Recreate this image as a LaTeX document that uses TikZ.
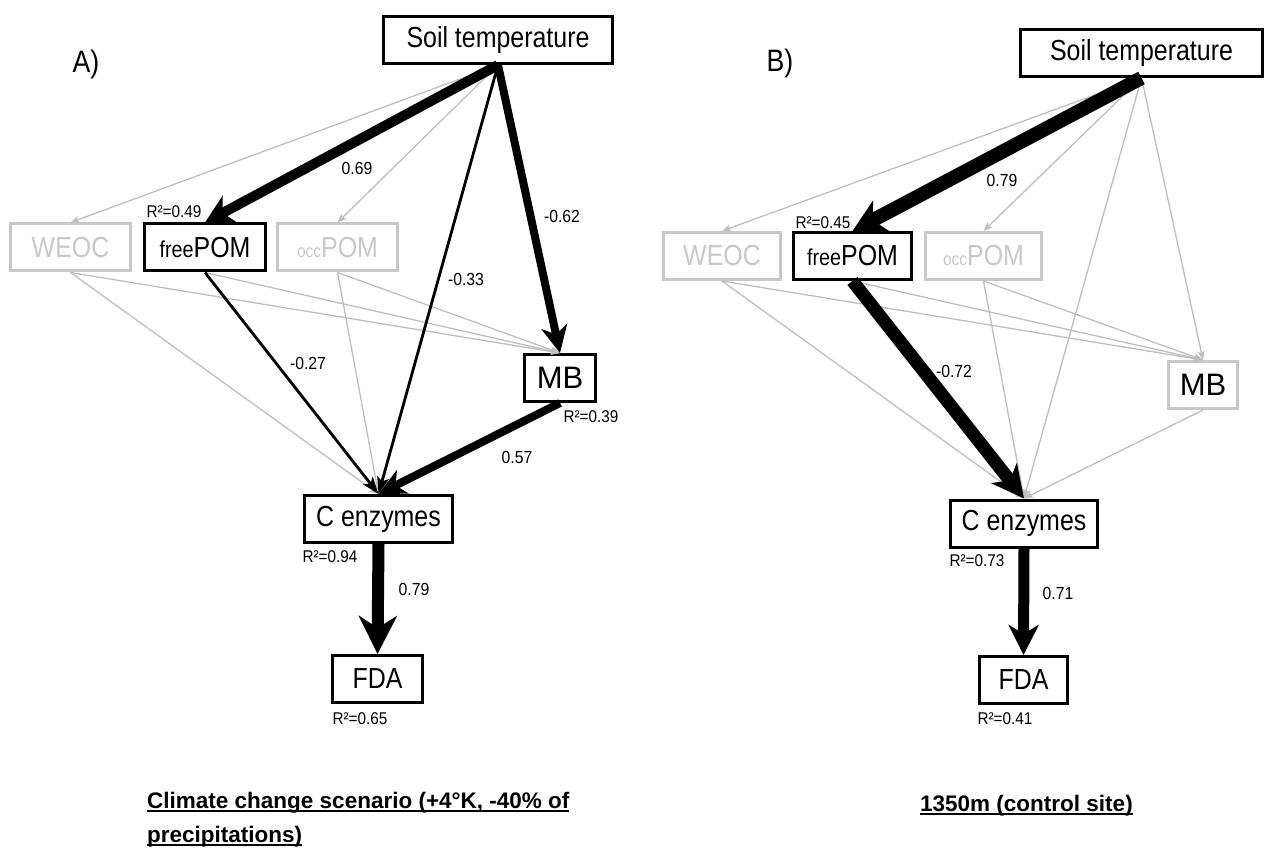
\documentclass[tikz,border=0pt]{standalone}
\usepackage{fontspec}
\setmainfont{Liberation Sans}
\newfontfamily\nf{Liberation Sans}[FakeStretch=0.9]
\newfontfamily\nfb{Liberation Sans}[FakeStretch=0.86]
\newcommand\myul[1]{\setbox0\hbox{#1}\rlap{\rule[-3.6pt]{\wd0}{1.7pt}}\box0}
\usetikzlibrary{arrows.meta}
\definecolor{lg}{RGB}{190,190,190}
\definecolor{lgt}{RGB}{200,200,200}
\begin{document}
\begin{tikzpicture}[x=1pt,y=-1pt,
  box/.style={draw=black, line width=3pt, fill=white, inner sep=0pt, minimum height=47pt,
    font=\nfb\fontsize{29}{31}\selectfont},
  gbox/.style={box, draw=lgt, text=lgt},
  elab/.style={font=\nf\fontsize{17.5}{19}\selectfont, inner sep=0pt},
  rlab/.style={font=\nf\fontsize{17}{19}\selectfont, inner sep=0pt},
  plab/.style={font=\nfb\fontsize{31}{33}\selectfont, inner sep=0pt},
  captxt/.style={font=\bfseries\fontsize{22.5}{26}\selectfont, inner sep=0pt, anchor=base west},
  gl/.style={draw=lg, line width=1.3pt, -{Stealth[length=9pt,width=7pt,inset=2pt]}},
  athin/.style={line width=2.8pt, -{Stealth[length=17pt,width=12pt,inset=4pt]}},
  amed/.style={line width=8pt, -{Stealth[length=27pt,width=26pt,inset=8pt]}},
  athick/.style={line width=10pt, -{Stealth[length=28pt,width=30pt,inset=8pt]}},
  afda/.style={line width=12pt, -{Stealth[length=38pt,width=38pt,inset=12pt]}},
  abig/.style={line width=14pt, -{Stealth[length=32pt,width=34pt,inset=9pt]}},
  abigb/.style={line width=13pt, -{Stealth[length=32pt,width=32pt,inset=9pt]}},
  afdab/.style={line width=11pt, -{Stealth[length=30pt,width=30pt,inset=9pt]}},
]
\useasboundingbox (0,0) rectangle (1267,853);

% ---------------- Panel A ----------------
\node[plab] (pA) at (86,64) {A)};
\node[box, minimum width=229pt] (soilA) at (498,40) {Soil temperature};
\node[gbox, minimum width=120pt] (weocA) at (70.5,247.5) {WEOC};
\node[box, minimum width=121pt] (fpomA) at (205,247.5) {{\fontsize{23}{25}\selectfont free}POM};
\node[gbox, minimum width=120pt] (opomA) at (337.5,247.5) {{\fontsize{18}{20}\selectfont occ}POM};
\node[box, minimum width=71pt, font=\fontsize{31}{33}\selectfont] (mbA) at (560,378) {MB};
\node[box, minimum width=148pt] (cenzA) at (378.5,519) {C enzymes};
\node[box, minimum width=90pt] (fdaA) at (377.5,679) {FDA};

\draw[gl] (soilA.south) -- (weocA.north);
\draw[gl] (soilA.south) -- (opomA.north);
\draw[gl] (weocA.south) -- (cenzA.north);
\draw[gl] (weocA.south) -- (mbA.north);
\draw[gl] (fpomA.south) -- (mbA.north);
\draw[gl] (opomA.south) -- (cenzA.north);
\draw[gl] (opomA.south) -- (mbA.north);

\draw[athick] (soilA.south) -- (fpomA.north);
\draw[amed] (soilA.south) -- (mbA.north);
\draw[athin] (soilA.south) -- (cenzA.north);
\draw[athin] (fpomA.south) -- (cenzA.north);
\draw[amed] (mbA.south) -- (cenzA.north);
\draw[afda] (cenzA.south) -- (fdaA.north);

\node[elab] (lA1) at (357,168) {0.69};
\node[elab] (lA2) at (562,216) {-0.62};
\node[elab] (lA3) at (466,279) {-0.33};
\node[elab] (lA4) at (308,363) {-0.27};
\node[elab] (lA5) at (517,457) {0.57};
\node[elab] (lA6) at (414,589) {0.79};
\node[rlab] (rA1) at (174,212) {R²=0.49};
\node[rlab] (rA2) at (591,417) {R²=0.39};
\node[rlab] (rA3) at (330,557) {R²=0.94};
\node[rlab] (rA4) at (360,719) {R²=0.65};

\node[captxt] (capA1) at (147,808) {\myul{Climate change scenario (+4°K, -40\% of}};
\node[captxt] (capA2) at (147,842) {\myul{precipitations)}};

% ---------------- Panel B ----------------
\node[plab] (pB) at (780,63) {B)};
\node[box, minimum width=242pt] (soilB) at (1141.5,53) {Soil temperature};
\node[gbox, minimum width=117pt] (weocB) at (722,256) {WEOC};
\node[box, minimum width=118pt] (fpomB) at (852.5,256) {{\fontsize{23}{25}\selectfont free}POM};
\node[gbox, minimum width=116pt] (opomB) at (983.5,256) {{\fontsize{18}{20}\selectfont occ}POM};
\node[gbox, minimum width=69pt, text=black, font=\fontsize{31}{33}\selectfont] (mbB) at (1203,385) {MB};
\node[box, minimum width=147pt] (cenzB) at (1024,523.5) {C enzymes};
\node[box, minimum width=88pt] (fdaB) at (1023.5,680) {FDA};

\draw[gl] (soilB.south) -- (weocB.north);
\draw[gl] (soilB.south) -- (opomB.north);
\draw[gl] (soilB.south) -- (cenzB.north);
\draw[gl] (soilB.south) -- (mbB.north);
\draw[gl] (weocB.south) -- (cenzB.north);
\draw[gl] (weocB.south) -- (mbB.north);
\draw[gl] (fpomB.south) -- (mbB.north);
\draw[gl] (opomB.south) -- (cenzB.north);
\draw[gl] (opomB.south) -- (mbB.north);
\draw[gl] (mbB.south) -- (cenzB.north);

\draw[abig] (soilB.south) -- (fpomB.north);
\draw[abigb] (fpomB.south) -- (cenzB.north);
\draw[afdab] (cenzB.south) -- (fdaB.north);

\node[elab] (lB1) at (1002,180) {0.79};
\node[elab] (lB2) at (954,371) {-0.72};
\node[elab] (lB3) at (1058,593) {0.71};
\node[rlab] (rB1) at (823,223) {R²=0.45};
\node[rlab] (rB2) at (977,561) {R²=0.73};
\node[rlab] (rB3) at (1005,719) {R²=0.41};

\node[captxt] (capB) at (920,811) {\myul{1350m (control site)}};
\end{tikzpicture}
\end{document}
